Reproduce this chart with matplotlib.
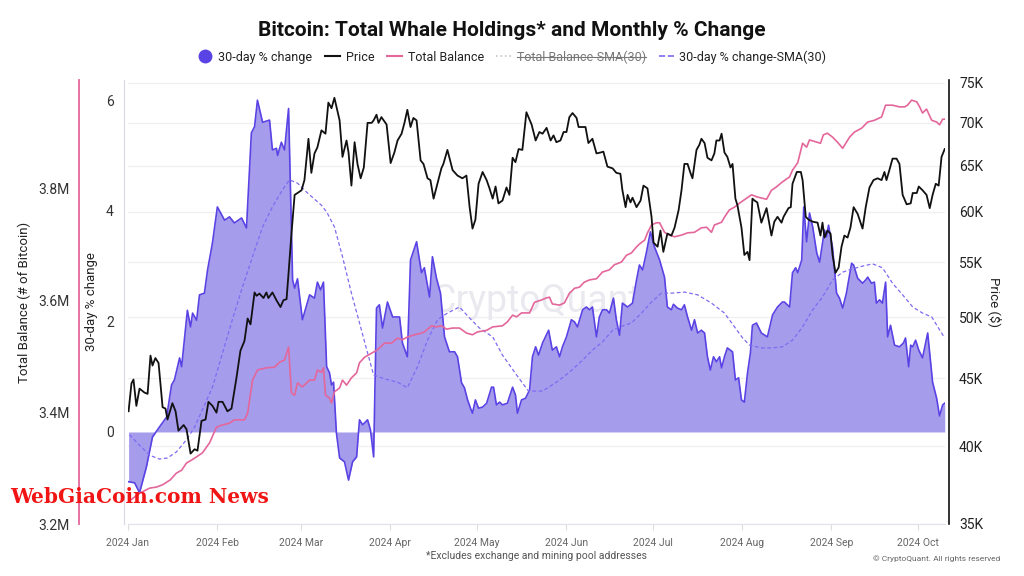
import matplotlib
matplotlib.use("Agg")
import matplotlib.pyplot as plt
from matplotlib.lines import Line2D
from matplotlib.ticker import NullLocator
import pandas as pd

plt.rcParams["font.family"] = ["Roboto", "DejaVu Sans"]

# (day since 2024-01-01, value)
pct_change = [
    (0.2, -0.90), (2.3, -0.92), (4.0, -1.10), (6.4, -0.63), (8.5, -0.09), (10.9, 0.09),
    (13.4, 0.27), (15.1, 0.85), (16.1, 0.94), (17.9, 1.34), (18.6, 1.18), (20.6, 2.20),
    (21.7, 1.90), (22.4, 2.15), (23.8, 2.02), (24.8, 2.48), (26.5, 2.51), (27.6, 2.93),
    (29.3, 3.42), (31.0, 4.07), (33.5, 3.83), (35.2, 3.89), (36.9, 3.78), (39.4, 3.87),
    (41.1, 3.69), (42.8, 5.41), (43.9, 5.52), (44.9, 6.00), (46.7, 5.60), (49.1, 5.64),
    (50.1, 5.10), (51.5, 5.13), (51.9, 5.00), (53.2, 5.24), (54.3, 5.10), (55.7, 5.85),
    (57.1, 2.75), (57.8, 2.60), (58.8, 2.77), (60.5, 2.03), (63.0, 2.48), (64.7, 2.42),
    (65.7, 2.71), (66.8, 2.57), (67.8, 2.71), (68.9, 1.18), (69.9, 1.07), (70.6, 0.85),
    (71.3, 0.90), (72.3, -0.02), (73.4, -0.47), (75.1, -0.54), (76.5, -0.87), (77.9, -0.54),
    (79.3, -0.45), (80.3, 0.22), (81.4, 0.13), (83.1, 0.22), (84.1, 0.04), (85.2, -0.45),
    (86.2, 2.24), (87.2, 2.30), (88.3, 1.88), (90.0, 2.35), (91.8, 2.08), (94.2, 2.08),
    (95.2, 1.61), (96.9, 1.36), (98.0, 3.11), (100.1, 3.44), (101.8, 2.88), (102.8, 2.97),
    (104.6, 2.44), (105.6, 3.17), (107.0, 2.78), (108.4, 2.51), (109.8, 1.72), (111.5, 1.45),
    (113.3, 1.45), (114.3, 1.36), (115.7, 0.89), (116.7, 0.80), (117.8, 0.58), (118.8, 0.43),
    (119.5, 0.34), (120.5, 0.58), (121.6, 0.43), (123.0, 0.45), (124.4, 0.52), (126.1, 0.81),
    (126.8, 0.81), (127.8, 0.49), (128.9, 0.54), (129.9, 0.49), (131.6, 0.52), (133.4, 0.81),
    (134.4, 0.67), (135.1, 0.34), (136.5, 0.58), (137.9, 0.61), (139.3, 0.76), (140.3, 1.36),
    (141.4, 1.54), (142.4, 1.39), (143.8, 1.61), (145.9, 1.84), (147.2, 1.48), (148.6, 1.54),
    (149.7, 1.36), (150.7, 1.54), (152.1, 1.72), (153.8, 2.03), (154.9, 1.99), (155.9, 1.90),
    (157.7, 2.21), (159.0, 2.26), (160.1, 2.21), (161.1, 2.26), (162.5, 1.72), (163.5, 2.08),
    (164.6, 2.21), (166.0, 2.21), (167.0, 2.15), (168.4, 2.42), (169.4, 2.03), (170.5, 1.75),
    (171.5, 2.33), (173.3, 2.26), (175.0, 2.33), (176.4, 2.75), (177.4, 3.02), (178.5, 2.93),
    (179.8, 3.24), (181.2, 3.62), (182.6, 3.35), (184.4, 3.11), (186.1, 2.80), (187.1, 2.26),
    (188.5, 2.21), (189.2, 2.31), (190.6, 2.24), (192.0, 2.21), (193.0, 2.30), (194.1, 2.08),
    (195.5, 1.84), (196.5, 2.03), (197.6, 1.79), (198.9, 1.84), (200.0, 1.79), (201.0, 1.36),
    (202.0, 1.12), (203.1, 1.36), (204.1, 1.27), (205.2, 1.36), (205.9, 1.16), (206.9, 1.36),
    (207.9, 1.52), (209.7, 1.45), (210.7, 0.94), (211.8, 0.98), (212.8, 0.58), (213.8, 0.54),
    (214.9, 1.07), (215.9, 1.43), (216.6, 1.93), (218.0, 1.97), (219.7, 1.79), (221.8, 1.72),
    (223.6, 2.12), (225.3, 2.26), (227.0, 2.35), (227.7, 2.35), (229.5, 2.26), (230.5, 2.88),
    (231.6, 2.97), (232.3, 2.88), (233.7, 3.11), (234.4, 4.07), (235.4, 3.44), (236.4, 3.96),
    (237.5, 3.71), (238.9, 3.24), (239.9, 3.07), (241.6, 3.65), (242.3, 3.53), (243.0, 3.74),
    (244.4, 3.33), (245.8, 2.51), (246.8, 2.42), (247.9, 2.24), (249.2, 2.51), (251.0, 3.05),
    (251.7, 3.02), (253.1, 2.78), (254.8, 2.69), (255.9, 2.75), (256.6, 2.80), (257.9, 2.69),
    (258.9, 2.71), (259.6, 2.33), (260.7, 2.39), (261.7, 2.33), (262.8, 2.71), (263.5, 1.72),
    (264.5, 1.93), (265.9, 1.57), (267.6, 1.54), (269.0, 1.61), (269.7, 1.70), (270.8, 1.18),
    (271.5, 1.57), (272.2, 1.54), (273.2, 1.66), (274.3, 1.48), (275.6, 1.34), (277.4, 1.79),
    (279.1, 0.90), (280.5, 0.61), (281.5, 0.29), (282.6, 0.49), (283.3, 0.52),
]

pct_sma = [
    (0.5, -0.05), (4.0, -0.24), (7.5, -0.42), (10.9, -0.49), (13.7, -0.47), (16.8, -0.36),
    (20.3, -0.14), (23.1, 0.09), (25.8, 0.40), (29.3, 0.81), (32.8, 1.43), (36.2, 2.03),
    (39.7, 2.62), (43.2, 3.17), (46.7, 3.71), (50.1, 4.07), (53.6, 4.38), (56.0, 4.56),
    (58.8, 4.50), (62.3, 4.32), (67.1, 4.10), (68.9, 3.98), (71.6, 3.71), (74.4, 3.17),
    (77.5, 2.51), (81.0, 1.84), (83.1, 1.43), (85.2, 1.03), (89.0, 0.96), (93.5, 0.90),
    (96.9, 0.80), (100.4, 1.18), (103.9, 1.66), (107.4, 2.03), (110.8, 2.15), (115.0, 2.26),
    (118.5, 2.06), (121.9, 1.88), (126.5, 1.72), (129.9, 1.39), (134.8, 1.03), (138.9, 0.74),
    (143.8, 0.74), (148.6, 0.90), (153.1, 1.08), (157.7, 1.30), (161.1, 1.48), (164.6, 1.63),
    (168.1, 1.84), (170.5, 1.90), (174.6, 1.97), (178.1, 2.15), (181.6, 2.35), (185.0, 2.51),
    (188.5, 2.51), (193.0, 2.53), (197.6, 2.48), (202.4, 2.33), (206.9, 2.15), (210.4, 1.90),
    (213.2, 1.70), (215.6, 1.57), (219.7, 1.52), (223.2, 1.52), (227.0, 1.54), (230.5, 1.66),
    (234.0, 1.90), (237.5, 2.21), (240.9, 2.44), (244.4, 2.75), (247.9, 2.89), (251.3, 2.95),
    (254.8, 3.00), (258.3, 3.04), (261.7, 2.97), (265.2, 2.69), (268.7, 2.48), (272.2, 2.26),
    (275.6, 2.15), (278.8, 2.08), (280.9, 1.90), (283.3, 1.70),
]

price_k = [
    (0.2, 42.5), (1.2, 44.6), (1.9, 44.9), (2.9, 42.9), (4.0, 44.2), (5.7, 43.9), (6.8, 43.8),
    (7.8, 46.8), (8.5, 46.0), (9.5, 46.6), (10.6, 46.2), (12.0, 42.8), (13.0, 42.7), (13.7, 41.9),
    (15.4, 43.1), (16.5, 42.5), (17.5, 41.1), (19.3, 41.5), (20.3, 41.2), (21.7, 39.5),
    (23.1, 39.8), (24.1, 39.7), (25.5, 41.8), (26.9, 41.9), (27.9, 43.2), (29.3, 42.9),
    (30.7, 42.4), (31.4, 43.2), (32.8, 43.2), (34.5, 42.5), (35.9, 42.7), (37.6, 45.0),
    (39.0, 47.2), (40.4, 48.0), (41.5, 49.9), (42.5, 49.4), (43.9, 52.2), (44.6, 51.9),
    (45.6, 52.1), (47.0, 51.7), (48.0, 52.2), (48.7, 51.7), (50.1, 52.2), (51.5, 51.5),
    (52.9, 50.9), (53.9, 51.5), (55.0, 51.6), (55.7, 54.0), (56.7, 57.8), (57.8, 61.8),
    (58.8, 62.0), (60.2, 62.3), (61.2, 63.4), (62.6, 68.1), (63.6, 64.2), (64.7, 66.4),
    (65.7, 67.1), (67.1, 69.1), (68.5, 68.7), (69.5, 72.5), (70.6, 71.8), (71.6, 73.1),
    (73.4, 70.3), (74.4, 66.0), (75.8, 67.9), (76.5, 66.5), (77.5, 62.8), (78.6, 67.7),
    (79.6, 65.2), (80.7, 63.6), (81.8, 64.8), (83.1, 70.0), (84.5, 70.0), (85.2, 70.3),
    (86.2, 71.0), (86.9, 70.0), (87.9, 70.7), (89.7, 69.8), (91.1, 65.3), (92.4, 66.5),
    (93.5, 67.9), (94.9, 68.7), (95.9, 70.0), (96.9, 71.6), (98.0, 69.5), (99.0, 70.6),
    (100.1, 70.3), (101.5, 65.6), (102.5, 65.2), (103.9, 63.6), (104.9, 63.4), (106.0, 61.4),
    (107.4, 63.1), (108.7, 64.7), (109.4, 65.2), (110.8, 66.8), (112.6, 64.5), (114.3, 63.9),
    (116.0, 63.6), (117.4, 63.9), (118.5, 60.5), (119.5, 58.3), (120.5, 59.2), (121.6, 63.0),
    (123.0, 64.3), (124.4, 63.4), (125.4, 62.5), (126.5, 61.4), (127.5, 62.7), (128.5, 60.9),
    (129.9, 61.2), (131.3, 62.6), (132.3, 61.8), (133.4, 65.9), (134.4, 65.4), (135.5, 66.9),
    (136.8, 66.8), (138.2, 71.3), (140.0, 69.8), (141.4, 67.9), (142.7, 68.9), (143.8, 68.7),
    (145.2, 69.4), (146.6, 67.9), (147.6, 68.5), (148.6, 67.7), (150.0, 67.9), (151.1, 68.9),
    (152.1, 68.9), (153.1, 70.7), (154.2, 71.2), (155.6, 70.6), (156.3, 69.5), (158.7, 69.5),
    (159.7, 67.6), (161.1, 68.1), (162.5, 66.4), (163.9, 66.5), (164.9, 66.6), (166.3, 64.9),
    (168.1, 64.7), (169.4, 64.2), (170.8, 64.1), (171.5, 62.3), (172.6, 60.5), (173.3, 61.8),
    (174.3, 61.0), (175.0, 61.5), (176.4, 60.5), (177.8, 61.2), (178.8, 62.8), (180.2, 62.5),
    (181.6, 59.5), (182.3, 56.9), (183.7, 56.5), (184.7, 58.1), (185.7, 56.0), (187.1, 57.8),
    (188.5, 57.6), (189.6, 58.4), (191.0, 60.2), (192.0, 62.3), (193.0, 65.2), (194.1, 65.2),
    (195.1, 64.2), (195.8, 63.6), (197.2, 66.8), (198.2, 67.4), (198.9, 68.1), (200.0, 67.6),
    (201.0, 65.9), (202.4, 65.6), (203.4, 66.4), (204.1, 67.9), (205.2, 67.9), (205.9, 68.7),
    (206.9, 66.5), (207.9, 66.0), (209.0, 64.8), (209.7, 65.2), (210.7, 61.4), (211.4, 60.7),
    (212.8, 58.4), (213.8, 55.7), (214.9, 56.0), (215.6, 55.2), (216.6, 61.4), (217.3, 61.2),
    (218.3, 61.0), (219.7, 58.9), (221.5, 60.4), (223.2, 57.6), (224.2, 59.0), (225.3, 59.5),
    (226.7, 58.9), (227.4, 59.5), (229.1, 60.4), (229.9, 60.5), (230.5, 63.0), (232.0, 64.3),
    (233.4, 64.3), (234.0, 63.4), (235.1, 59.5), (236.1, 59.2), (237.5, 59.0), (239.2, 58.9),
    (240.2, 57.6), (240.9, 58.9), (241.6, 57.4), (242.6, 58.1), (243.7, 57.8), (244.4, 55.7),
    (245.4, 54.0), (246.5, 54.5), (247.5, 56.5), (248.5, 57.6), (249.6, 57.4), (250.6, 58.4),
    (251.7, 60.5), (253.1, 59.8), (254.8, 58.3), (255.9, 60.5), (257.2, 62.6), (258.6, 63.4),
    (260.0, 63.6), (261.4, 63.4), (262.4, 64.3), (263.1, 63.4), (264.1, 64.5), (265.2, 65.8),
    (266.6, 65.8), (267.6, 65.2), (268.7, 61.8), (270.1, 60.8), (271.5, 60.9), (272.2, 62.0),
    (273.6, 62.0), (274.3, 62.7), (275.6, 62.3), (277.0, 61.8), (278.1, 60.4), (279.1, 61.8),
    (280.2, 63.0), (281.2, 62.8), (282.2, 66.0), (283.3, 66.9),
]

balance_m = [
    (0.2, 3.240), (4.0, 3.255), (7.5, 3.264), (9.9, 3.266), (12.0, 3.270), (14.7, 3.279),
    (16.8, 3.291), (18.6, 3.296), (20.3, 3.309), (22.0, 3.314), (23.8, 3.320), (25.8, 3.327),
    (28.3, 3.345), (30.7, 3.373), (32.8, 3.377), (35.2, 3.380), (36.9, 3.386), (40.4, 3.386),
    (41.5, 3.398), (43.2, 3.457), (44.9, 3.475), (48.0, 3.479), (50.8, 3.480), (52.6, 3.489),
    (54.3, 3.493), (55.7, 3.516), (56.7, 3.434), (57.8, 3.430), (58.8, 3.452), (60.5, 3.445),
    (63.0, 3.457), (64.7, 3.457), (65.7, 3.475), (67.1, 3.471), (67.8, 3.479), (68.5, 3.430),
    (69.9, 3.425), (70.6, 3.416), (71.6, 3.436), (73.4, 3.443), (74.4, 3.457), (75.8, 3.448),
    (77.5, 3.461), (79.3, 3.470), (80.3, 3.488), (82.1, 3.498), (84.5, 3.505), (86.5, 3.511),
    (89.0, 3.523), (91.4, 3.523), (93.5, 3.532), (95.2, 3.529), (96.9, 3.534), (99.4, 3.538),
    (101.8, 3.541), (102.8, 3.543), (105.3, 3.554), (107.0, 3.552), (108.7, 3.554), (110.5, 3.548),
    (112.6, 3.550), (115.0, 3.550), (117.4, 3.541), (119.5, 3.538), (121.2, 3.543), (124.4, 3.546),
    (126.5, 3.552), (129.9, 3.554), (131.6, 3.561), (133.4, 3.573), (134.8, 3.570), (136.5, 3.577),
    (139.3, 3.577), (141.0, 3.596), (143.4, 3.600), (145.2, 3.604), (146.2, 3.605), (147.2, 3.593),
    (149.7, 3.591), (151.4, 3.595), (153.1, 3.612), (154.9, 3.621), (156.6, 3.623), (158.3, 3.632),
    (160.1, 3.636), (162.5, 3.638), (164.6, 3.650), (167.0, 3.654), (168.7, 3.663), (171.2, 3.668),
    (172.9, 3.680), (174.6, 3.684), (176.4, 3.695), (177.4, 3.700), (179.2, 3.707), (180.2, 3.720),
    (181.6, 3.734), (183.3, 3.738), (184.4, 3.738), (186.1, 3.721), (187.8, 3.716), (189.6, 3.713),
    (192.0, 3.716), (194.1, 3.720), (196.5, 3.721), (198.9, 3.729), (200.7, 3.730), (202.4, 3.721),
    (203.4, 3.734), (205.9, 3.739), (206.9, 3.748), (208.6, 3.761), (210.4, 3.766), (212.1, 3.773),
    (213.8, 3.779), (216.3, 3.788), (218.3, 3.784), (221.5, 3.780), (223.2, 3.796), (224.9, 3.802),
    (227.0, 3.811), (229.5, 3.820), (230.5, 3.832), (232.3, 3.845), (234.0, 3.880), (235.4, 3.873),
    (236.4, 3.886), (238.9, 3.882), (240.2, 3.880), (241.2, 3.895), (242.6, 3.898), (244.4, 3.891),
    (246.1, 3.882), (247.9, 3.871), (250.3, 3.891), (252.0, 3.900), (254.5, 3.907), (256.6, 3.918),
    (258.9, 3.921), (261.4, 3.927), (262.8, 3.948), (265.2, 3.948), (267.6, 3.945), (269.4, 3.945),
    (270.4, 3.948), (271.8, 3.957), (273.6, 3.954), (274.6, 3.945), (275.6, 3.934), (277.0, 3.941),
    (278.8, 3.921), (280.5, 3.918), (281.5, 3.913), (282.6, 3.923), (283.3, 3.923),
]

month_labels = ["2024 Jan", "2024 Feb", "2024 Mar", "2024 Apr", "2024 May",
                "2024 Jun", "2024 Jul", "2024 Aug", "2024 Sep", "2024 Oct"]
pct_ticks = [0, 2, 4, 6]
balance_ticks = [3.2, 3.4, 3.6, 3.8]
price_ticks = [35, 40, 45, 50, 55, 60, 65, 70, 75]
legend_labels = ["30-day % change", "Price", "Total Balance",
                 "Total Balance-SMA(30)", "30-day % change-SMA(30)"]

COLOR_FILL = "#a59cec"
COLOR_PCT = "#5a43e4"
COLOR_SMA = "#7d6cf0"
COLOR_BAL = "#e4679b"
COLOR_PRICE = "#111111"

PX = 72 / 100  # points per pixel at dpi 100

start = pd.Timestamp("2024-01-01")
month_days = (pd.date_range(start, periods=10, freq="MS") - start).days

fig = plt.figure(figsize=(10.24, 5.76), dpi=100)
ax = fig.add_axes([128 / 1024, 52 / 576, 817 / 1024, 444 / 576])
ax_bal = ax.twinx()
ax_px = ax.twinx()

# 30-day % change (area) + its SMA
d, v = zip(*pct_change)
ax.fill_between(d, v, 0, color=COLOR_FILL, lw=0, zorder=2)
ax.plot(d, v, color=COLOR_PCT, lw=1.2, zorder=3)
d, v = zip(*pct_sma)
ax.plot(d, v, color=COLOR_SMA, lw=0.9, ls=(0, (3, 2)), zorder=4)
ax.set_ylim(-1.664, 6.365)
ax.set_xlim(0, 283.4)
ax.set_yticks(pct_ticks)
ax.set_yticklabels([str(t) for t in pct_ticks])

# total balance
d, v = zip(*balance_m)
ax_bal.plot(d, v, color=COLOR_BAL, lw=1.2)
ax_bal.set_ylim(3.2, 3.993)
ax_bal.set_yticks(balance_ticks)
ax_bal.set_yticklabels([f"{t:.1f}M" for t in balance_ticks])

# price (log)
d, v = zip(*price_k)
ax_px.plot(d, v, color=COLOR_PRICE, lw=1.3)
ax_px.set_yscale("log")
ax_px.set_ylim(34.97, 75.39)
ax_px.set_yticks(price_ticks)
ax_px.set_yticklabels([f"{t}K" for t in price_ticks])
ax_px.yaxis.set_minor_locator(NullLocator())

# faint horizontal grid at the price ticks, drawn behind the area
for t in price_ticks:
    yf = ax_px.transAxes.inverted().transform(ax_px.transData.transform((0, t)))[1]
    ax.plot([0, 1], [yf, yf], transform=ax.transAxes, color="#f0f0f3", lw=1.0, zorder=0)

# axes styling
for s in ["top", "right"]:
    ax.spines[s].set_visible(False)
ax.spines["left"].set_position(("outward", 4 * PX))
ax.spines["left"].set_color("#d8d8e6")
ax.spines["bottom"].set_color("#e2e2ea")
ax.tick_params(axis="y", length=0, pad=10 * PX, labelsize=10, labelcolor="#333333")
ax.set_xticks(month_days)
ax.set_xticklabels(month_labels)
ax.tick_params(axis="x", length=4, color="#dcdce4", pad=6, labelsize=7.5, labelcolor="#666666")

for s in ["top", "right", "bottom"]:
    ax_bal.spines[s].set_visible(False)
ax_bal.yaxis.set_ticks_position("left")
ax_bal.yaxis.set_label_position("left")
ax_bal.spines["left"].set_visible(True)
ax_bal.spines["left"].set_position(("outward", 49 * PX))
ax_bal.spines["left"].set_color(COLOR_BAL)
ax_bal.spines["left"].set_linewidth(1.3)
ax_bal.tick_params(axis="y", length=0, pad=9 * PX, labelsize=10, labelcolor="#333333")

for s in ["top", "left", "bottom"]:
    ax_px.spines[s].set_visible(False)
ax_px.spines["right"].set_position(("outward", 4 * PX))
ax_px.spines["right"].set_color("#111111")
ax_px.spines["right"].set_linewidth(1.2)
ax_px.tick_params(axis="y", length=0, pad=10 * PX, labelsize=10, labelcolor="#222222")

ax.set_ylabel("30-day % change", fontsize=9.5, color="#222222")
ax.yaxis.set_label_coords(-0.037, 0.5)
ax_bal.set_ylabel("Total Balance (# of Bitcoin)", fontsize=9.5, color="#222222")
ax_bal.yaxis.set_label_coords(-0.1187, 0.5)
ax_px.set_ylabel("Price ($)", fontsize=9.5, color="#222222", rotation=270, va="center")
ax_px.yaxis.set_label_coords(1.061, 0.5)

# watermarks
ax.text(0.5, 0.5, "CryptoQuant", transform=ax.transAxes, fontsize=27, color="#e9e9ef",
        ha="center", va="center", zorder=1)
fig.text(10 / 1024, 1 - 497 / 576, "WebGiaCoin.com News", fontsize=14.5, color="#f01414",
         family=["DejaVu Serif"], weight="bold", ha="left", va="center", zorder=10)

# title, legend, notes
fig.text(0.5, 1 - 30 / 576, "Bitcoin: Total Whale Holdings* and Monthly % Change",
         fontsize=15, weight="bold", ha="center", va="center", color="#111111")

handles = [
    Line2D([], [], marker="o", ls="none", color=COLOR_PCT, markersize=9),
    Line2D([], [], color=COLOR_PRICE, lw=1.5),
    Line2D([], [], color=COLOR_BAL, lw=1.5),
    Line2D([], [], color="#c8c8c8", lw=1.2, ls=":"),
    Line2D([], [], color=COLOR_SMA, lw=1.2, ls="--"),
]
leg = fig.legend(handles, legend_labels, loc="center", bbox_to_anchor=(0.5, 1 - 57 / 576),
                 ncol=5, frameon=False, fontsize=9, handlelength=1.2, handletextpad=0.45,
                 columnspacing=1.0)
for t in leg.get_texts():
    t.set_color("#222222")
leg.get_texts()[3].set_color("#777777")

fig.text(537 / 1024, 1 - 556 / 576, "*Excludes exchange and mining pool addresses",
         fontsize=7.5, color="#555555", ha="center", va="center")
fig.text(1000 / 1024, 1 - 559 / 576, "\u00a9 CryptoQuant. All rights reserved",
         fontsize=6, color="#666666", ha="right", va="center")

# strike through the hidden series label
fig.canvas.draw()
bb = leg.get_texts()[3].get_window_extent().transformed(fig.transFigure.inverted())
ymid = (bb.y0 + bb.y1) / 2
fig.add_artist(Line2D([bb.x0, bb.x1], [ymid, ymid], transform=fig.transFigure,
                      color="#777777", lw=0.8))

fig.savefig("out.png", dpi=100)
